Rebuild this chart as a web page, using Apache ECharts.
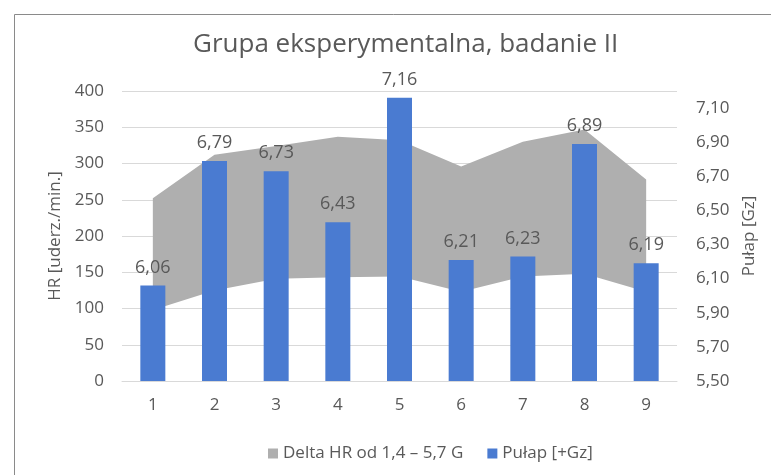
<!DOCTYPE html>
<html>
<head>
<meta charset="utf-8">
<script src="https://cdn.jsdelivr.net/npm/echarts@6/dist/echarts.min.js"></script>
<style>
html,body{margin:0;padding:0;background:#fff;}
#c{width:771px;height:475px;}
</style>
</head>
<body>
<div id="c"></div>
<script>
// ---- data ----
var categories = ['1','2','3','4','5','6','7','8','9'];
var hrLower = [98, 125, 141, 143, 144, 123, 144, 148, 123];
var hrUpper = [252, 312, 324, 337, 332, 296, 330, 347, 278];
var pulap = [6.06, 6.79, 6.73, 6.43, 7.16, 6.21, 6.23, 6.89, 6.19];
var hrTicks = [0, 50, 100, 150, 200, 250, 300, 350, 400];
var gzTicks = [5.5, 5.7, 5.9, 6.1, 6.3, 6.5, 6.7, 6.9, 7.1];

var hrDelta = hrUpper.map(function (v, i) { return v - hrLower[i]; });
var FONT = '"Open Sans", sans-serif';
var TXT = '#595959';
function comma(v) { return Number(v).toFixed(2).replace('.', ','); }

var chart = echarts.init(document.getElementById('c'), null, {renderer: 'canvas'});
chart.setOption({
  animation: false,
  textStyle: {fontFamily: FONT, color: TXT},
  title: {
    text: 'Grupa eksperymentalna, badanie II',
    left: 188,
    top: 27,
    textStyle: {fontFamily: FONT, fontSize: 26, fontWeight: 'normal', color: TXT}
  },
  graphic: [{
    type: 'rect',
    shape: {x: 14.5, y: 14.5, width: 900, height: 600},
    style: {fill: 'none', stroke: '#8a8a8a', lineWidth: 1},
    silent: true
  }],
  legend: {
    left: 263,
    top: 440,
    itemWidth: 10,
    itemHeight: 10,
    itemGap: 24,
    textStyle: {fontFamily: FONT, fontSize: 17, color: TXT},
    data: [
      {name: 'Delta HR od 1,4 – 5,7 G', icon: 'rect'},
      {name: 'Pułap [+Gz]', icon: 'rect'}
    ]
  },
  grid: {left: 122, right: 94, top: 91, bottom: 94},
  xAxis: {
    type: 'category',
    data: categories,
    boundaryGap: true,
    axisLine: {lineStyle: {color: '#d9d9d9', width: 1}},
    axisTick: {show: false},
    axisLabel: {fontFamily: FONT, fontSize: 17, color: TXT, margin: 16}
  },
  yAxis: [{
    type: 'value',
    min: hrTicks[0],
    max: hrTicks[hrTicks.length - 1],
    interval: hrTicks[1] - hrTicks[0],
    name: 'HR [uderz./min.]',
    nameLocation: 'middle',
    nameRotate: 90,
    nameGap: 55,
    nameTextStyle: {fontFamily: FONT, fontSize: 17, color: TXT},
    axisLine: {show: false},
    axisTick: {show: false},
    axisLabel: {fontFamily: FONT, fontSize: 17, color: TXT, margin: 18},
    splitLine: {lineStyle: {color: '#d9d9d9', width: 1}}
  }, {
    type: 'value',
    position: 'right',
    min: gzTicks[0],
    max: 7.2,
    interval: 0.2,
    name: 'Pułap [Gz]',
    nameLocation: 'middle',
    nameRotate: 90,
    nameGap: 62,
    nameTextStyle: {fontFamily: FONT, fontSize: 17, color: TXT},
    axisLine: {show: false},
    axisTick: {show: false},
    splitLine: {show: false},
    axisLabel: {
      fontFamily: FONT, fontSize: 17, color: TXT, margin: 19,
      showMaxLabel: false,
      formatter: function (v) { return comma(v); }
    }
  }],
  series: [{
    name: 'base',
    type: 'line',
    stack: 'hr',
    yAxisIndex: 0,
    z: 1,
    data: hrLower,
    symbol: 'none',
    lineStyle: {width: 0, opacity: 0},
    silent: true
  }, {
    name: 'Delta HR od 1,4 – 5,7 G',
    type: 'line',
    stack: 'hr',
    yAxisIndex: 0,
    z: 1,
    data: hrDelta,
    symbol: 'none',
    itemStyle: {color: '#afafaf'},
    lineStyle: {width: 0, opacity: 0},
    areaStyle: {color: '#afafaf', opacity: 1}
  }, {
    name: 'Pułap [+Gz]',
    type: 'bar',
    yAxisIndex: 1,
    z: 5,
    data: pulap,
    barWidth: 25,
    itemStyle: {color: '#4a7bd1'},
    label: {
      show: true,
      position: 'top',
      distance: 9,
      fontFamily: FONT,
      fontSize: 18,
      color: TXT,
      formatter: function (p) { return comma(p.value); }
    }
  }]
});
</script>
</body>
</html>
